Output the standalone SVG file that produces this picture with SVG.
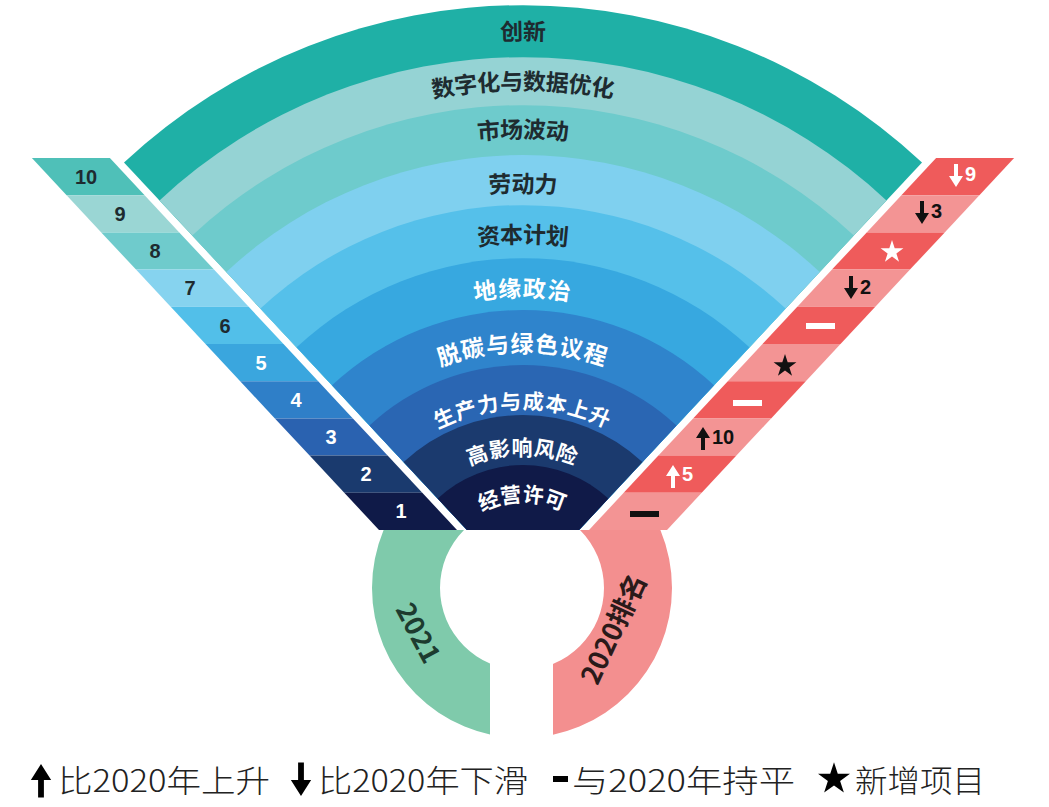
<svg xmlns="http://www.w3.org/2000/svg" xmlns:xlink="http://www.w3.org/1999/xlink" width="1049" height="807" viewBox="0 0 1049 807">
<style>
.lbl{font-family:"Noto Sans CJK SC","Liberation Sans",sans-serif;font-size:23px;font-weight:600;text-anchor:middle;dominant-baseline:central}
.sm{font-size:21px}
.dk{fill:#1e2b30}.wt{fill:#ffffff;letter-spacing:2px}
.num{font-family:"Liberation Sans","Noto Sans",sans-serif;font-size:20px;font-weight:700;text-anchor:middle;dominant-baseline:central}
.rnum{font-family:"Liberation Sans","Noto Sans",sans-serif;font-size:20px;font-weight:700;dominant-baseline:central}
.leg{font-family:"Noto Sans CJK SC","Liberation Sans",sans-serif;font-size:31px;font-weight:300;fill:#222}
.ring{font-family:"Noto Sans CJK SC","Liberation Sans",sans-serif;font-size:27px;font-weight:700;text-anchor:middle;dominant-baseline:central}
</style>
<defs>
<clipPath id="fanclip"><rect x="0" y="0" width="1049" height="530"/></clipPath>
<clipPath id="gclip"><rect x="0" y="530" width="490" height="277"/></clipPath>
<clipPath id="pclip"><rect x="553" y="530" width="496" height="277"/></clipPath>
<path id="dn" d="M-2,-12 h4 v12 h5 l-7,11 l-7,-11 h5 z"/>
<path id="up" d="M-2,12 h4 v-12 h5 l-7,-11 l-7,11 h5 z"/>
<polygon id="star" points="0,-12 2.7,-3.72 11.41,-3.71 4.37,1.42 7.05,9.71 0,4.6 -7.05,9.71 -4.37,1.42 -11.41,-3.71 -2.7,-3.72"/>
<path id="a1" d="M38,310 A560,560 0 0 1 1008,310"/>
<path id="a2" d="M81.3,335 A510,510 0 0 1 964.7,335"/>
<path id="a3" d="M122.9,359 A462,462 0 0 1 923.1,359"/>
<path id="a4" d="M169.7,386 A408,408 0 0 1 876.3,386"/>
<path id="a5" d="M213.8,411.5 A357,357 0 0 1 832.2,411.5"/>
<path id="a6" d="M260.6,438.5 A303,303 0 0 1 785.4,438.5"/>
<path id="a7" d="M308.2,466 A248,248 0 0 1 737.8,466"/>
<path id="a8" d="M356.6,491.5 A197,197 0 0 1 689.4,491.5"/>
<path id="a9" d="M398.3,518 A144,144 0 0 1 647.7,518"/>
<path id="a10" d="M439,541.5 A97,97 0 0 1 607,541.5"/>
</defs>
<rect width="1049" height="807" fill="#ffffff"/>

<g id="ring">
<path clip-path="url(#gclip)" fill="#7fcaab" fill-rule="evenodd" d="M372,588 a150,150 0 1,0 300,0 a150,150 0 1,0 -300,0 Z M440,588 a82,82 0 1,0 164,0 a82,82 0 1,0 -164,0 Z"/>
<path clip-path="url(#pclip)" fill="#f38f8f" fill-rule="evenodd" d="M372,588 a150,150 0 1,0 300,0 a150,150 0 1,0 -300,0 Z M440,588 a82,82 0 1,0 164,0 a82,82 0 1,0 -164,0 Z"/>
<text class="ring" fill="#1d3b2f" transform="translate(420,632) rotate(62)">2021</text>
<text class="ring" fill="#2a1a1a" transform="translate(612,628) rotate(-65)">2020排名</text>
</g>

<g id="fan" clip-path="url(#fanclip)">
<path fill="#1fb0a6" d="M523,590 L124,162.4 A585,585 0 0 1 922,162.4 Z"/>
<path fill="#95d3d4" d="M523,590 L159.5,200.4 A533,533 0 0 1 886.5,200.4 Z"/>
<path fill="#6ecbcc" d="M523,590 L192.2,235.5 A485,485 0 0 1 853.8,235.5 Z"/>
<path fill="#7fd0ef" d="M523,590 L226.3,272 A435,435 0 0 1 819.7,272 Z"/>
<path fill="#55c0ea" d="M523,590 L260.4,308.6 A385,385 0 0 1 785.6,308.6 Z"/>
<path fill="#37a8e0" d="M523,590 L296.6,347.3 A332,332 0 0 1 749.4,347.3 Z"/>
<path fill="#2f84cc" d="M523,590 L332,385.3 A280,280 0 0 1 714,385.3 Z"/>
<path fill="#2a66b3" d="M523,590 L369.5,425.5 A225,225 0 0 1 676.5,425.5 Z"/>
<path fill="#1b3a6e" d="M523,590 L403.6,462.1 A175,175 0 0 1 642.4,462.1 Z"/>
<path fill="#101a48" d="M523,590 L437.7,498.6 A125,125 0 0 1 608.3,498.6 Z"/>
</g>
<g id="fan-labels">
<text class="lbl dk"><textPath href="#a1" startOffset="50%">创新</textPath></text>
<text class="lbl dk"><textPath href="#a2" startOffset="50%">数字化与数据优化</textPath></text>
<text class="lbl dk"><textPath href="#a3" startOffset="50%">市场波动</textPath></text>
<text class="lbl dk"><textPath href="#a4" startOffset="50%">劳动力</textPath></text>
<text class="lbl dk"><textPath href="#a5" startOffset="50%">资本计划</textPath></text>
<text class="lbl wt"><textPath href="#a6" startOffset="50%">地缘政治</textPath></text>
<text class="lbl wt"><textPath href="#a7" startOffset="50%">脱碳与绿色议程</textPath></text>
<text class="lbl wt sm"><textPath href="#a8" startOffset="50%">生产力与成本上升</textPath></text>
<text class="lbl wt sm"><textPath href="#a9" startOffset="50%">高影响风险</textPath></text>
<text class="lbl wt sm"><textPath href="#a10" startOffset="50%">经营许可</textPath></text>
</g>

<g id="left-strip">
<polygon fill="#4fc0b8" points="31.9,158 109.9,158 144.6,195.2 66.6,195.2"/>
<polygon fill="#9ad6d4" points="66.6,195.2 144.6,195.2 179.3,232.4 101.3,232.4"/>
<polygon fill="#6fcbcc" points="101.3,232.4 179.3,232.4 214,269.6 136,269.6"/>
<polygon fill="#86d3ef" points="136,269.6 214,269.6 248.7,306.8 170.7,306.8"/>
<polygon fill="#52bfe9" points="170.7,306.8 248.7,306.8 283.5,344 205.5,344"/>
<polygon fill="#3aa6de" points="205.5,344 283.5,344 318.2,381.2 240.2,381.2"/>
<polygon fill="#2f7fc8" points="240.2,381.2 318.2,381.2 352.9,418.4 274.9,418.4"/>
<polygon fill="#2a62b0" points="274.9,418.4 352.9,418.4 387.6,455.6 309.6,455.6"/>
<polygon fill="#1a3a6e" points="309.6,455.6 387.6,455.6 422.3,492.8 344.3,492.8"/>
<polygon fill="#0f1a48" points="344.3,492.8 422.3,492.8 457,530 379,530"/>
<text class="num" fill="#1e2b30" x="86" y="177">10</text>
<text class="num" fill="#1e2b30" x="120" y="214">9</text>
<text class="num" fill="#1e2b30" x="155" y="251">8</text>
<text class="num" fill="#1e2b30" x="190" y="288">7</text>
<text class="num" fill="#1e2b30" x="225" y="326">6</text>
<text class="num" fill="#ffffff" x="261" y="363">5</text>
<text class="num" fill="#ffffff" x="296" y="400">4</text>
<text class="num" fill="#ffffff" x="331" y="437">3</text>
<text class="num" fill="#ffffff" x="366" y="474">2</text>
<text class="num" fill="#ffffff" x="401" y="511">1</text>
</g>

<g id="right-strip">
<polygon fill="#ef5b5b" points="936.1,158 1014.1,158 979.4,195.2 901.4,195.2"/>
<polygon fill="#f39494" points="901.4,195.2 979.4,195.2 944.7,232.4 866.7,232.4"/>
<polygon fill="#ef5b5b" points="866.7,232.4 944.7,232.4 910,269.6 832,269.6"/>
<polygon fill="#f39494" points="832,269.6 910,269.6 875.3,306.8 797.3,306.8"/>
<polygon fill="#ef5b5b" points="797.3,306.8 875.3,306.8 840.5,344 762.5,344"/>
<polygon fill="#f39494" points="762.5,344 840.5,344 805.8,381.2 727.8,381.2"/>
<polygon fill="#ef5b5b" points="727.8,381.2 805.8,381.2 771.1,418.4 693.1,418.4"/>
<polygon fill="#f39494" points="693.1,418.4 771.1,418.4 736.4,455.6 658.4,455.6"/>
<polygon fill="#ef5b5b" points="658.4,455.6 736.4,455.6 701.7,492.8 623.7,492.8"/>
<polygon fill="#f39494" points="623.7,492.8 701.7,492.8 667,530 589,530"/>
<use href="#dn" x="956" y="176" fill="#ffffff"/><text class="rnum" fill="#ffffff" x="965" y="174">9</text>
<use href="#dn" x="922" y="213" fill="#111111"/><text class="rnum" fill="#111111" x="931" y="211">3</text>
<use href="#star" x="892" y="252" fill="#ffffff"/>
<use href="#dn" x="851" y="288" fill="#111111"/><text class="rnum" fill="#111111" x="860" y="287">2</text>
<rect x="806" y="323" width="29" height="6" fill="#ffffff"/>
<use href="#star" x="785" y="366" fill="#111111"/>
<rect x="733" y="400" width="29" height="6" fill="#ffffff"/>
<use href="#up" x="703" y="438" fill="#111111"/><text class="rnum" fill="#111111" x="712" y="437">10</text>
<use href="#up" x="673" y="476" fill="#ffffff"/><text class="rnum" fill="#ffffff" x="682" y="474">5</text>
<rect x="630" y="511" width="29" height="6" fill="#111111"/>
</g>

<g id="legend">
<use href="#up" transform="translate(41,780) scale(1.45)" fill="#000000"/>
<text class="leg" x="58" y="792" textLength="212" lengthAdjust="spacingAndGlyphs">比2020年上升</text>
<use href="#dn" transform="translate(301,780) scale(1.45)" fill="#000000"/>
<text class="leg" x="318" y="792" textLength="210" lengthAdjust="spacingAndGlyphs">比2020年下滑</text>
<rect x="553" y="776" width="15" height="6" fill="#000000"/>
<text class="leg" x="572" y="792" textLength="223" lengthAdjust="spacingAndGlyphs">与2020年持平</text>
<use href="#star" transform="translate(834,779) scale(1.4)" fill="#000000"/>
<text class="leg" x="855" y="792" textLength="130" lengthAdjust="spacingAndGlyphs">新增项目</text>
</g>
</svg>
